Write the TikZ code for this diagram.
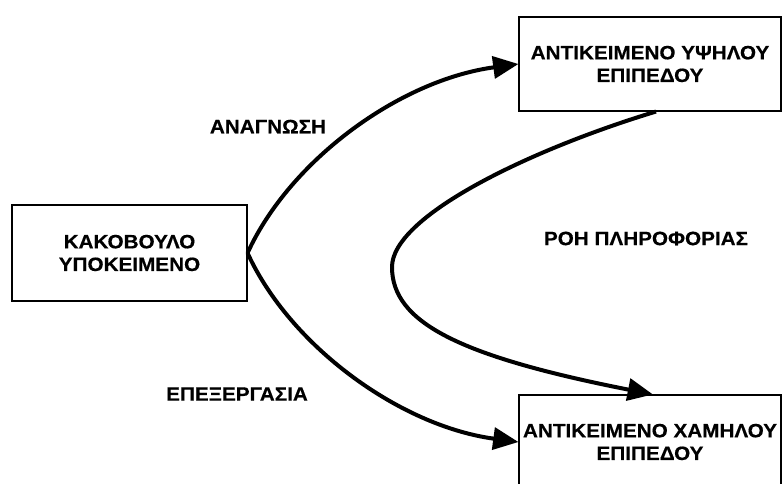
\documentclass[tikz,border=0pt]{standalone}
\usepackage{fontspec}
\newfontfamily\diafont{Liberation Sans}[FakeStretch=1.07,BoldFeatures={FakeStretch=1.07,FakeBold=0.4}]
\usetikzlibrary{arrows.meta}
\begin{document}
\begin{tikzpicture}[x=0.75pt,y=-0.75pt,
  box/.style={draw=black,line width=0.8pt,inner sep=0pt,align=center,
    font=\diafont\fontsize{14.5}{17}\selectfont\bfseries},
  lbl/.style={inner sep=0pt,font=\diafont\fontsize{14.5}{17}\selectfont\bfseries},
  flow/.style={line width=3pt,-{Triangle[length=19pt,width=16.5pt]}}]
\useasboundingbox (0,0) rectangle (782,483);
\clip (0,0) rectangle (782,483);

% the three boxes
\node[box,minimum width=176.25pt,minimum height=72pt] (subj) at (129.5,253)
  {ΚΑΚΟΒΟΥΛΟ\\ΥΠΟΚΕΙΜΕΝΟ};
\node[box,minimum width=196.5pt,minimum height=70.5pt] (high) at (650,64)
  {ΑΝΤΙΚΕΙΜΕΝΟ ΥΨΗΛΟΥ\\ΕΠΙΠΕΔΟΥ};
\node[box,minimum width=196.5pt,minimum height=70.5pt] (low) at (650,442)
  {ΑΝΤΙΚΕΙΜΕΝΟ ΧΑΜΗΛΟΥ\\ΕΠΙΠΕΔΟΥ};

% labels
\node[lbl] (read) at (268,126.5) {ΑΝΑΓΝΩΣΗ};
\node[lbl] (proc) at (237,394) {ΕΠΕΞΕΡΓΑΣΙΑ};
\node[lbl] (flowlbl) at (646,238.5) {ΡΟΗ ΠΛΗΡΟΦΟΡΙΑΣ};

% connectors
\draw[flow] (subj.east) .. controls (290,160) and (400,80) .. (high.west);
\draw[flow] (subj.east) .. controls (290,346) and (400,426) .. (low.west);
\coordinate (bend) at (392,267);
\draw[flow] ([xshift=4.5pt]high.south) .. controls (526,151) and (392,217) .. (bend)
  .. controls (392,322) and (458,356) .. ([xshift=2.25pt]low.north);
\end{tikzpicture}
\end{document}
